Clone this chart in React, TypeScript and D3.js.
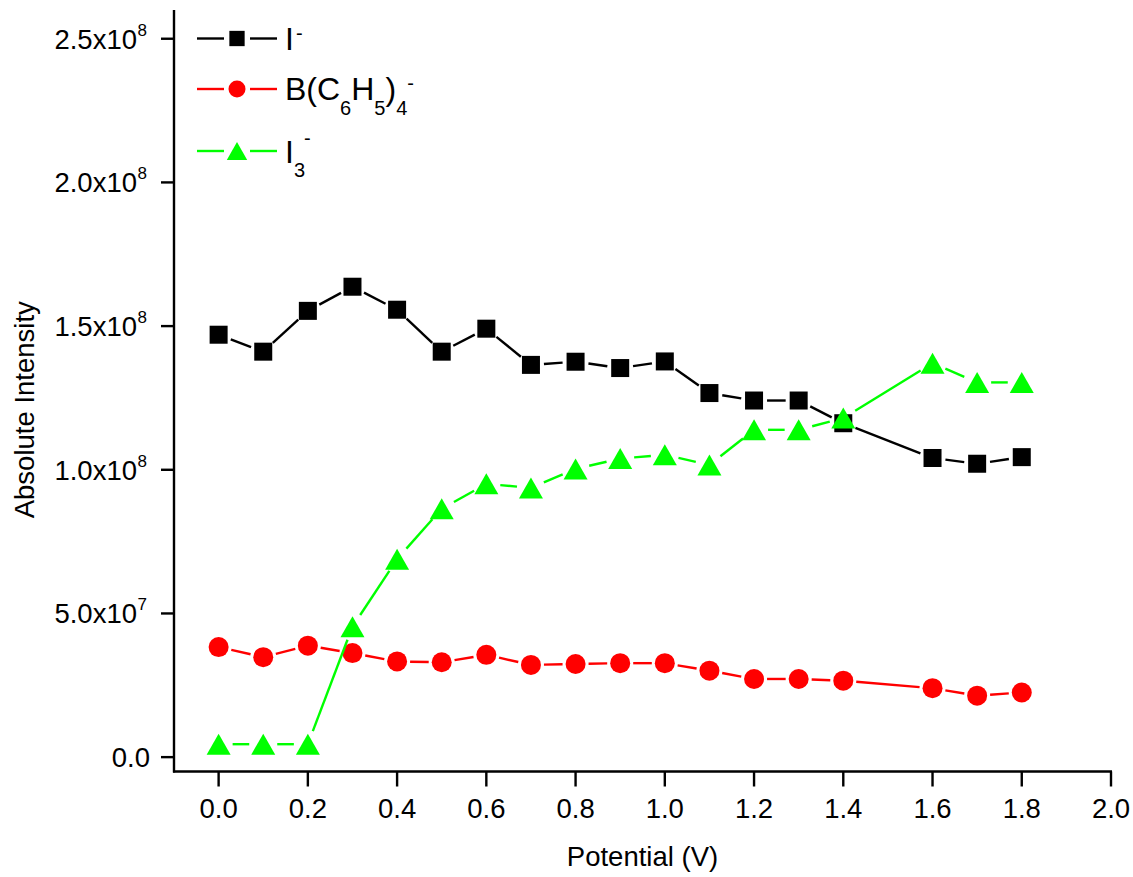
import React from "react";
import * as d3 from "d3";

const potentials = [0.0, 0.1, 0.2, 0.3, 0.4, 0.5, 0.6, 0.7, 0.8, 0.9, 1.0, 1.1, 1.2, 1.3, 1.4, 1.6, 1.7, 1.8];
const iodide = [1.470e8, 1.411e8, 1.553e8, 1.637e8, 1.557e8, 1.411e8, 1.491e8, 1.365e8, 1.376e8, 1.354e8, 1.377e8, 1.267e8, 1.241e8, 1.241e8, 1.162e8, 1.041e8, 1.021e8, 1.044e8];
const tetraphenylborate = [0.383e8, 0.348e8, 0.388e8, 0.362e8, 0.333e8, 0.330e8, 0.356e8, 0.321e8, 0.324e8, 0.327e8, 0.327e8, 0.301e8, 0.272e8, 0.272e8, 0.266e8, 0.240e8, 0.214e8, 0.225e8];
const triiodide = [0.045e8, 0.045e8, 0.045e8, 0.454e8, 0.689e8, 0.864e8, 0.951e8, 0.937e8, 1.003e8, 1.039e8, 1.052e8, 1.017e8, 1.139e8, 1.139e8, 1.180e8, 1.371e8, 1.304e8, 1.304e8];

const xTicks = [0.0, 0.2, 0.4, 0.6, 0.8, 1.0, 1.2, 1.4, 1.6, 1.8, 2.0];
const yTicks = [0, 0.5e8, 1.0e8, 1.5e8, 2.0e8, 2.5e8];
const yTickMantissa = ["0.0", "5.0", "1.0", "1.5", "2.0", "2.5"];
const yTickExp = ["", "7", "8", "8", "8", "8"];

const FONT = "'Liberation Sans', Arial, sans-serif";

type Shape = "square" | "circle" | "triangle";

function Marker({ shape, x, y, color, s = 1 }: { shape: Shape; x: number; y: number; color: string; s?: number }) {
  if (shape === "square") {
    const h = 9 * s;
    return <rect x={x - h} y={y - h} width={2 * h} height={2 * h} fill={color} />;
  }
  if (shape === "circle") {
    return <circle cx={x} cy={y} r={10 * s} fill={color} />;
  }
  const w = 12 * s;
  const h = 10.5 * s;
  return <polygon points={`${x},${y - h} ${x + w},${y + h} ${x - w},${y + h}`} fill={color} />;
}

function GappedLine({ pts, color, gap }: { pts: [number, number][]; color: string; gap: number }) {
  const segs: React.ReactNode[] = [];
  for (let i = 0; i < pts.length - 1; i++) {
    const [x1, y1] = pts[i];
    const [x2, y2] = pts[i + 1];
    const dx = x2 - x1;
    const dy = y2 - y1;
    const len = Math.hypot(dx, dy);
    if (len <= 2 * gap) continue;
    const ux = dx / len;
    const uy = dy / len;
    segs.push(
      <line
        key={i}
        x1={x1 + ux * gap}
        y1={y1 + uy * gap}
        x2={x2 - ux * gap}
        y2={y2 - uy * gap}
        stroke={color}
        strokeWidth={2.4}
      />
    );
  }
  return <g>{segs}</g>;
}

export default function App() {
  const W = 1133;
  const H = 877;
  const x = d3.scaleLinear().domain([-0.1, 2.0]).range([174, 1111]);
  const y = d3.scaleLinear().domain([-5e6, 2.6e8]).range([771.5, 10]);

  const series: { vals: number[]; color: string; shape: Shape; gap: number }[] = [
    { vals: iodide, color: "#000000", shape: "square", gap: 13 },
    { vals: tetraphenylborate, color: "#ff0000", shape: "circle", gap: 13 },
    { vals: triiodide, color: "#00ff00", shape: "triangle", gap: 14 },
  ];

  const axisColor = "#000";
  const tickLen = 13;

  return (
    <svg
      width={W}
      height={H}
      viewBox={`0 0 ${W} ${H}`}
      style={{ position: "absolute", left: 0, top: 0, background: "#fff" }}
      fontFamily={FONT}
    >
      <rect x={0} y={0} width={W} height={H} fill="#fff" />
      {/* axes */}
      <line x1={x(-0.1)} y1={y(2.6e8)} x2={x(-0.1)} y2={y(-5e6) + 1} stroke={axisColor} strokeWidth={2.4} />
      <line x1={x(-0.1) - 1} y1={y(-5e6)} x2={x(2.0) + 1} y2={y(-5e6)} stroke={axisColor} strokeWidth={2.4} />
      {yTicks.map((t, i) => (
        <g key={"yt" + i}>
          <line x1={x(-0.1) - tickLen} x2={x(-0.1)} y1={y(t)} y2={y(t)} stroke={axisColor} strokeWidth={2.4} />
          <text x={yTickExp[i] ? 137 : 150} y={y(t) + 10} fontSize={27.5} textAnchor="end" fill="#000">
            {yTickExp[i] ? yTickMantissa[i] + "x10" : yTickMantissa[i]}
          </text>
          {yTickExp[i] && (
            <text x={137.5} y={y(t) - 3} fontSize={17} textAnchor="start" fill="#000">
              {yTickExp[i]}
            </text>
          )}
        </g>
      ))}
      {xTicks.map((t, i) => (
        <g key={"xt" + i}>
          <line x1={x(t)} x2={x(t)} y1={y(-5e6)} y2={y(-5e6) + tickLen + 2} stroke={axisColor} strokeWidth={2.4} />
          <text x={x(t)} y={818} fontSize={27.5} textAnchor="middle" fill="#000">
            {t.toFixed(1)}
          </text>
        </g>
      ))}
      <text x={(x(-0.1) + x(2.0)) / 2} y={866} fontSize={27.5} textAnchor="middle" fill="#000">
        Potential (V)
      </text>
      <text
        transform={`translate(34,${(y(2.6e8) + y(-5e6)) / 2 + 19}) rotate(-90)`}
        fontSize={27.5}
        textAnchor="middle"
        fill="#000"
      >
        Absolute Intensity
      </text>

      {/* data */}
      {series.map((s, si) => {
        const pts: [number, number][] = potentials.map((p, i) => [x(p), y(s.vals[i])]);
        return (
          <g key={"s" + si}>
            <GappedLine pts={pts} color={s.color} gap={s.gap} />
            {pts.map(([px, py], i) => (
              <Marker key={i} shape={s.shape} x={px} y={py} color={s.color} />
            ))}
          </g>
        );
      })}

      {/* legend */}
      {[
        { ly: 38.5, color: "#000000", shape: "square" as Shape },
        { ly: 89, color: "#ff0000", shape: "circle" as Shape },
        { ly: 151, color: "#00ff00", shape: "triangle" as Shape },
      ].map((l, i) => (
        <g key={"lg" + i}>
          <line x1={197} x2={224} y1={l.ly} y2={l.ly} stroke={l.color} strokeWidth={2.4} />
          <line x1={250} x2={277} y1={l.ly} y2={l.ly} stroke={l.color} strokeWidth={2.4} />
          <Marker shape={l.shape} x={237} y={l.ly} color={l.color} s={0.85} />
        </g>
      ))}
      <text x={285} y={50} fontSize={32} fill="#000">
        I
      </text>
      <text x={296} y={39.5} fontSize={20} fill="#000">
        -
      </text>
      <text x={285} y={100} fontSize={32} fill="#000">
        B(C
        <tspan fontSize={20} dy={15}>6</tspan>
        <tspan fontSize={32} dy={-15}>H</tspan>
        <tspan fontSize={20} dy={15}>5</tspan>
        <tspan fontSize={32} dy={-15}>)</tspan>
        <tspan fontSize={20} dy={15}>4</tspan>
        <tspan fontSize={20} dy={-25.5}>-</tspan>
      </text>
      <text x={285} y={163} fontSize={32} fill="#000">
        I
        <tspan fontSize={20} dy={14}>3</tspan>
      </text>
      <text x={304} y={144.5} fontSize={20} fill="#000">
        -
      </text>
    </svg>
  );
}
